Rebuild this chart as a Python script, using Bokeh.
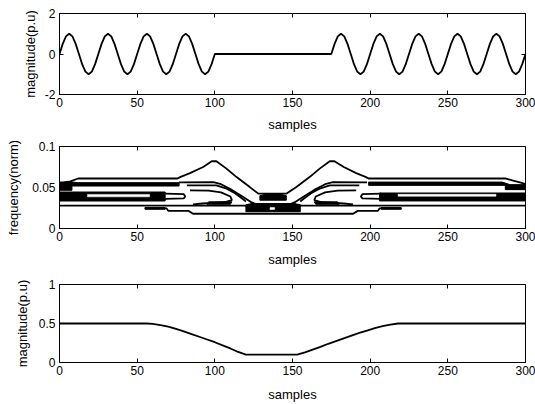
from bokeh.plotting import figure
from bokeh.layouts import column
from bokeh.models import FixedTicker, LinearAxis, Range1d, CustomLabelingPolicy
from bokeh.embed import file_html
from bokeh.resources import INLINE

FONT = "Liberation Sans"

# ---------------- shared axis data ----------------
x_ticks = [0, 50, 100, 150, 200, 250, 300]
x_tick_labels = ["0", "50", "100", "150", "200", "250", "300"]
x_label = "samples"

# ---------------- panel 1: signal ----------------
sig_y_ticks = [-2, 0, 2]
sig_y_tick_labels = ["-2", "0", "2"]
sig_ylabel = "magnitude(p.u)"
sig_x = [
    0, 2.08, 4.17, 6.25, 8.33, 10.42, 12.5, 14.58, 16.67, 18.75, 20.83, 22.92,
    25, 27.08, 29.17, 31.25, 33.33, 35.42, 37.5, 39.58, 41.67, 43.75, 45.83, 47.92,
    50, 52.08, 54.17, 56.25, 58.33, 60.42, 62.5, 64.58, 66.67, 68.75, 70.83, 72.92,
    75, 77.08, 79.17, 81.25, 83.33, 85.42, 87.5, 89.58, 91.67, 93.75, 95.83, 97.92,
    100,
    175, 177.08, 179.17, 181.25, 183.33, 185.42, 187.5, 189.58, 191.67, 193.75, 195.83, 197.92,
    200, 202.08, 204.17, 206.25, 208.33, 210.42, 212.5, 214.58, 216.67, 218.75, 220.83, 222.92,
    225, 227.08, 229.17, 231.25, 233.33, 235.42, 237.5, 239.58, 241.67, 243.75, 245.83, 247.92,
    250, 252.08, 254.17, 256.25, 258.33, 260.42, 262.5, 264.58, 266.67, 268.75, 270.83, 272.92,
    275, 277.08, 279.17, 281.25, 283.33, 285.42, 287.5, 289.58, 291.67, 293.75, 295.83, 297.92,
    300,
]
sig_y = [
    0, 0.5, 0.87, 1, 0.87, 0.5, 0, -0.5, -0.87, -1, -0.87, -0.5,
    0, 0.5, 0.87, 1, 0.87, 0.5, 0, -0.5, -0.87, -1, -0.87, -0.5,
    0, 0.5, 0.87, 1, 0.87, 0.5, 0, -0.5, -0.87, -1, -0.87, -0.5,
    0, 0.5, 0.87, 1, 0.87, 0.5, 0, -0.5, -0.87, -1, -0.87, -0.5,
    0,
    0, 0.5, 0.87, 1, 0.87, 0.5, 0, -0.5, -0.87, -1, -0.87, -0.5,
    0, 0.5, 0.87, 1, 0.87, 0.5, 0, -0.5, -0.87, -1, -0.87, -0.5,
    0, 0.5, 0.87, 1, 0.87, 0.5, 0, -0.5, -0.87, -1, -0.87, -0.5,
    0, 0.5, 0.87, 1, 0.87, 0.5, 0, -0.5, -0.87, -1, -0.87, -0.5,
    0, 0.5, 0.87, 1, 0.87, 0.5, 0, -0.5, -0.87, -1, -0.87, -0.5,
    0,
]

# ---------------- panel 2: time-frequency contours ----------------
tf_y_ticks = [0, 0.05, 0.1]
tf_y_tick_labels = ["0", "0.05", "0.1"]
tf_ylabel = "frequency(norm)"

contour_xs = [
    # outer contour with the two humps
    [0, 4, 7, 12, 76, 78, 84, 92.5, 98, 101, 107.5, 114, 122.5, 128, 146, 152.5, 161, 167.5, 174, 177, 183, 191, 197, 199, 287, 292, 297, 300],
    # second contour, left / right
    [77, 99, 104, 110, 117, 123, 126],
    [149, 152, 158, 165, 171, 176, 198],
    # third contour, left / right
    [82, 101, 107, 113, 118, 120],
    [155, 157, 162, 168, 174, 193],
    # hook contours
    [84, 96, 104, 110, 111, 106, 92, 86],
    [191, 179, 171, 165, 164, 169, 183, 189],
    # band tails
    [68, 80, 81, 80, 68],
    [207, 195, 194, 195, 207],
    # full width contour
    [0, 300],
    # lower stepped contour
    [55, 69, 70, 83, 86, 189, 192, 205, 206, 220],
]
contour_ys = [
    [0.0545, 0.0565, 0.0575, 0.061, 0.061, 0.063, 0.0676, 0.075, 0.082, 0.082, 0.073, 0.0627, 0.0505, 0.0425, 0.0425, 0.0505, 0.0627, 0.073, 0.082, 0.082, 0.075, 0.0676, 0.063, 0.061, 0.061, 0.0585, 0.056, 0.054],
    [0.0562, 0.0566, 0.054, 0.048, 0.040, 0.0325, 0.030],
    [0.030, 0.0325, 0.040, 0.048, 0.054, 0.0566, 0.0562],
    [0.0525, 0.0525, 0.049, 0.043, 0.036, 0.033],
    [0.033, 0.036, 0.043, 0.049, 0.0525, 0.0525],
    [0.0465, 0.0462, 0.044, 0.039, 0.0345, 0.032, 0.0305, 0.0295],
    [0.0465, 0.0462, 0.044, 0.039, 0.0345, 0.032, 0.0305, 0.0295],
    [0.0425, 0.0418, 0.039, 0.0368, 0.0362],
    [0.0425, 0.0418, 0.039, 0.0368, 0.0362],
    [0.028, 0.028],
    [0.0245, 0.0245, 0.0215, 0.0215, 0.018, 0.018, 0.0215, 0.0215, 0.0245, 0.0245],
]

# dense (black) regions of the contour map
dense_xs = [
    [0, 8, 8, 77, 77, 12, 8, 0],
    [199, 287, 287, 300, 300, 290, 285, 199],
    [0, 68, 68, 0],
    [206, 300, 300, 206],
    [120, 155, 155, 151, 124, 120],
    [129, 146, 146, 143, 132, 129],
    [95, 110, 111, 96],
    [165, 180, 179, 164],
    [55, 68, 68, 55],
    [207, 220, 220, 207],
]
dense_ys = [
    [0.0466, 0.0466, 0.0518, 0.0518, 0.0559, 0.0559, 0.0567, 0.0567],
    [0.0526, 0.0526, 0.0474, 0.0474, 0.0535, 0.0535, 0.0566, 0.0566],
    [0.0335, 0.0335, 0.0445, 0.0445],
    [0.0336, 0.0336, 0.0433, 0.0433],
    [0.0205, 0.0205, 0.029, 0.0305, 0.0305, 0.029],
    [0.0345, 0.0345, 0.040, 0.0415, 0.0415, 0.040],
    [0.0295, 0.0295, 0.0325, 0.0325],
    [0.0295, 0.0295, 0.0325, 0.0325],
    [0.0235, 0.0235, 0.0255, 0.0255],
    [0.0235, 0.0235, 0.0255, 0.0255],
]
# light islands inside the dense regions
island_xs = [
    [18, 58, 58, 18],
    [218, 281, 281, 218],
    [135.5, 138.5, 138.5, 135.5],
]
island_ys = [
    [0.0386, 0.0386, 0.0416, 0.0416],
    [0.0393, 0.0393, 0.0417, 0.0417],
    [0.0232, 0.0232, 0.0255, 0.0255],
]

# ---------------- panel 3: magnitude ----------------
mag_y_ticks = [0, 0.5, 1]
mag_y_tick_labels = ["0", "0.5", "1"]
mag_ylabel = "magnitude(p.u)"
mag_x = [0, 56, 60, 65, 70, 75, 80, 85, 90, 95, 100, 105, 110, 115, 120,
         153, 158, 163, 168, 173, 178, 183, 188, 193, 198, 203, 208, 213, 218, 300]
mag_y = [0.5, 0.5, 0.495, 0.48, 0.46, 0.43, 0.40, 0.365, 0.33, 0.295, 0.26, 0.22, 0.18, 0.135, 0.1,
         0.1, 0.13, 0.165, 0.2, 0.24, 0.275, 0.31, 0.345, 0.38, 0.41, 0.44, 0.465, 0.485, 0.5, 0.5]

HIDE_LABELS = """
for (const i of Array.from(indices)) { indices.unset(i) }
return indices
"""


def tick_only_axis(ticks):
    return LinearAxis(ticker=FixedTicker(ticks=ticks), axis_line_color=None,
                      major_tick_in=4, major_tick_out=0, minor_tick_line_color=None,
                      major_label_text_font_size="1px", major_label_standoff=0,
                      major_label_policy=CustomLabelingPolicy(code=HIDE_LABELS),
                      major_tick_line_color="black")


def make_panel(height, b_top, b_bottom, y0, y1, yticks, ylabels, ylabel, ylab_standoff, xlab_standoff):
    p = figure(width=535, height=height, output_backend="svg", toolbar_location=None,
               x_range=Range1d(0, 300), y_range=Range1d(y0, y1),
               min_border_left=59, min_border_right=10,
               min_border_top=b_top, min_border_bottom=b_bottom,
               background_fill_color="white", border_fill_color="white")
    p.grid.visible = False
    p.outline_line_color = "black"
    p.outline_line_alpha = 1.0
    p.outline_line_width = 1

    xa = p.xaxis[0]
    xa.ticker = FixedTicker(ticks=x_ticks)
    xa.major_label_overrides = {t: s for t, s in zip(x_ticks, x_tick_labels)}
    xa.axis_label = x_label
    ya = p.yaxis[0]
    ya.ticker = FixedTicker(ticks=yticks)
    ya.major_label_overrides = {t: s for t, s in zip(yticks, ylabels)}
    ya.axis_label = ylabel
    for ax, st in ((xa, xlab_standoff), (ya, ylab_standoff)):
        ax.axis_line_color = "black"
        ax.major_tick_in = 4
        ax.major_tick_out = 0
        ax.major_tick_line_color = "black"
        ax.minor_tick_line_color = None
        ax.major_label_text_font = FONT
        ax.major_label_text_font_size = "12px"
        ax.major_label_text_color = "black"
        ax.major_label_standoff = 3
        ax.axis_label_text_font = FONT
        ax.axis_label_text_font_size = "13px"
        ax.axis_label_text_font_style = "normal"
        ax.axis_label_text_color = "black"
        ax.axis_label_standoff = st
    ya.major_label_standoff = 4

    p.add_layout(tick_only_axis(x_ticks), "above")
    p.add_layout(tick_only_axis(yticks), "right")
    return p


p1 = make_panel(141, 13, 47, -2, 2, sig_y_ticks, sig_y_tick_labels, sig_ylabel, 4, 7)
p1.line(sig_x, sig_y, line_color="black", line_width=1.8)

p2 = make_panel(138, 5, 51, 0, 0.1, tf_y_ticks, tf_y_tick_labels, tf_ylabel, 8, 8)
p2.patches(dense_xs, dense_ys, fill_color="black", line_color="black", line_width=1)
p2.patches(island_xs, island_ys, fill_color="white", line_color="white", line_width=0.5)
p2.multi_line(contour_xs, contour_ys, line_color="black", line_width=1.8)

p3 = make_panel(125, 5, 42, 0, 1, mag_y_ticks, mag_y_tick_labels, mag_ylabel, 6, 9)
p3.line(mag_x, mag_y, line_color="black", line_width=1.8)

layout = column(p1, p2, p3, spacing=0)
open("out.html", "w").write(file_html(layout, INLINE))
